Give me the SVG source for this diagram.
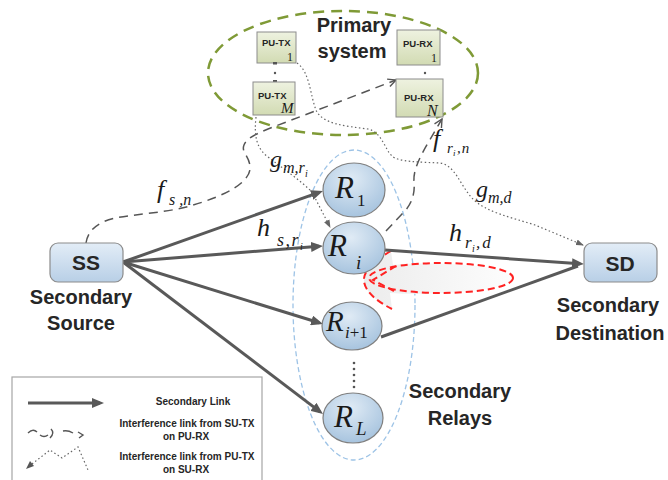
<svg xmlns="http://www.w3.org/2000/svg" width="668" height="480" viewBox="0 0 668 480">
<defs>
<linearGradient id="gPU" x1="0" y1="0" x2="0" y2="1"><stop offset="0" stop-color="#eef2e0"/><stop offset="1" stop-color="#d2dbb3"/></linearGradient>
<linearGradient id="gS" x1="0" y1="0" x2="0" y2="1"><stop offset="0" stop-color="#e3edf7"/><stop offset="1" stop-color="#b8cfe6"/></linearGradient>
<radialGradient id="gR" cx="0.45" cy="0.3" r="0.75"><stop offset="0" stop-color="#e0ebf5"/><stop offset="1" stop-color="#a3c1dd"/></radialGradient>
<linearGradient id="gRed" x1="0" y1="0" x2="1" y2="0"><stop offset="0" stop-color="#ececec"/><stop offset="1" stop-color="#fdfdfd"/></linearGradient>
<marker id="ah" viewBox="0 0 12 10" refX="8" refY="5" markerWidth="12" markerHeight="10" markerUnits="userSpaceOnUse" orient="auto"><path d="M0,0 L12,5 L0,10 z" fill="#595959"/></marker>
<marker id="op" viewBox="0 0 10 10" refX="9" refY="5" markerWidth="10" markerHeight="10" markerUnits="userSpaceOnUse" orient="auto"><path d="M1,1 L9,5 L1,9" fill="none" stroke="#555" stroke-width="1.4"/></marker>
<marker id="sm" viewBox="0 0 8 6" refX="7" refY="3" markerWidth="8" markerHeight="6" markerUnits="userSpaceOnUse" orient="auto"><path d="M0,0 L8,3 L0,6 z" fill="#666"/></marker>
</defs>
<style>
.lbl{font-family:"Liberation Sans","Open Sans",Arial,sans-serif;font-weight:bold;fill:#262626;text-anchor:middle}
.pu{font-family:"Liberation Sans",Arial,sans-serif;font-weight:bold;fill:#262626;font-size:9.5px}
.mi{font-family:"Liberation Serif","Times New Roman",serif;font-style:italic;fill:#1a1a1a}
.mu{font-family:"Liberation Serif","Times New Roman",serif;fill:#1a1a1a}
.pubox{fill:url(#gPU);stroke:#8c8c8c;stroke-width:1}
.sbox{fill:url(#gS);stroke:#8c8c8c;stroke-width:1.2}
.rel{fill:url(#gR);stroke:#7f7f7f;stroke-width:1.2}
.sol{stroke:#595959;stroke-width:3;fill:none}
.dsh{stroke:#555;stroke-width:1.5;fill:none;stroke-dasharray:9 6}
.dot{stroke:#666;stroke-width:1.2;fill:none;stroke-dasharray:1.5 2.5}
.red{stroke:#ff2222;stroke-width:2;fill:none;stroke-dasharray:7 4}
.leg{font-family:"Liberation Sans",Arial,sans-serif;font-weight:bold;fill:#262626;font-size:10px;text-anchor:middle}
</style>

<g id="primary-system">
<ellipse cx="343" cy="73" rx="135" ry="62" fill="none" stroke="#7f9a36" stroke-width="2.5" stroke-dasharray="11 7"/>
<text class="lbl" x="354" y="32" font-size="20">Primary</text>
<text class="lbl" x="352" y="58" font-size="20">system</text>
</g>

<g id="relays-group">
<ellipse cx="354" cy="305" rx="61" ry="155" fill="none" stroke="#9dc3e6" stroke-width="1.3" stroke-dasharray="5 3"/>
<text class="lbl" x="460" y="398" font-size="20">Secondary</text>
<text class="lbl" x="460" y="425" font-size="20">Relays</text>
</g>

<g id="self-interference">
<path d="M391,251 C372,262 363,272 364,281 C365,292 378,302 392,309 L390,293 C430,296 513,291 513,278 C513,265 430,261 393,265 Z" fill="url(#gRed)"/>
<ellipse cx="441" cy="278" rx="72" ry="15" class="red"/>
<path class="red" d="M391,251 C372,262 363,272 364,281 C365,292 378,302 392,309"/>
<path class="red" d="M396,266 L373,280 L394,291"/>
</g>

<g id="connectors">
<line class="sol" x1="123" y1="262" x2="319.2" y2="192.3" marker-end="url(#ah)"/>
<line class="sol" x1="123" y1="262" x2="319" y2="246.3" marker-end="url(#ah)"/>
<line class="sol" x1="123" y1="262" x2="319.2" y2="322.8" marker-end="url(#ah)"/>
<line class="sol" x1="123" y1="262" x2="319.8" y2="411.6" marker-end="url(#ah)"/>
<line class="sol" x1="385" y1="250" x2="580" y2="263.7" marker-end="url(#ah)"/>
<line class="sol" x1="381" y1="337" x2="578" y2="266"/>
<path class="dsh" d="M86,243 C88,230 98,222 115,218 C135,214 165,213 190,206 C225,196 252,182 250,166 C249,156 241,152 244,145 C247,138 256,134 268,129 L396,80" marker-end="url(#op)"/>
<path class="dsh" d="M386,231 L403,213 C413,203 415,192 414,182 C413,172 418,160 428,143 L442,119" marker-end="url(#op)"/>
<path class="dot" d="M256,117 C254,135 256,148 268,157 C285,170 300,180 312,192 L330,227" marker-end="url(#sm)"/>
<path class="dot" d="M297,63 C310,72 310,95 316,110 C322,124 345,126 368,129 C382,132 385,150 392,156 C398,162 420,162 440,163 C455,165 460,185 472,198 C485,212 510,217 535,225 L583,245" marker-end="url(#sm)"/>
</g>

<g id="channel-labels">
<text class="mi" x="157" y="198" font-size="26">f</text>
<text class="mi" x="169" y="205" font-size="16">s ,n</text>
<text class="mi" x="270" y="167" font-size="24">g</text>
<text class="mi" x="283" y="173" font-size="16">m,r</text>
<text class="mi" x="305" y="177" font-size="10">i</text>
<text class="mi" x="257" y="236" font-size="26">h</text>
<text class="mi" x="277" y="246" font-size="18" letter-spacing="1.5">s,r</text>
<text class="mi" x="300" y="250" font-size="10">i</text>
<text class="mi" x="433" y="147" font-size="26">f</text>
<text class="mi" x="447" y="153" font-size="15">r</text>
<text class="mi" x="453" y="156" font-size="9">i</text>
<text class="mi" x="457" y="153" font-size="15" letter-spacing="1">,n</text>
<text class="mi" x="476" y="197" font-size="24">g</text>
<text class="mi" x="488" y="203" font-size="16">m,d</text>
<text class="mi" x="449" y="241" font-size="26">h</text>
<text class="mi" x="465" y="248" font-size="17">r</text>
<text class="mi" x="472" y="252" font-size="10">i</text>
<text class="mi" x="476" y="248" font-size="17" letter-spacing="2">,d</text>
</g>

<g id="node-putx1">
<rect class="pubox" x="257" y="32" width="39" height="31"/>
<text class="pu" x="262" y="46">PU-TX</text>
<text class="mu" x="287" y="61" font-size="12">1</text>
</g>
<g id="putx-dots" fill="#555">
<rect x="273" y="62" width="4" height="2.5"/>
<circle cx="275" cy="73" r="1.2"/>
<rect x="273" y="80" width="4" height="2.5"/>
</g>
<g id="node-putxm">
<rect class="pubox" x="253" y="82" width="42" height="33"/>
<text class="pu" x="258" y="99">PU-TX</text>
<text class="mi" x="281" y="113" font-size="15">M</text>
</g>
<g id="node-purx1">
<rect class="pubox" x="397" y="30" width="43" height="35"/>
<text class="pu" x="403" y="47">PU-RX</text>
<text class="mu" x="431" y="62" font-size="12">1</text>
</g>
<circle cx="425" cy="73" r="1.2" fill="#555"/>
<g id="node-purxn">
<rect class="pubox" x="396" y="79" width="47" height="38"/>
<text class="pu" x="404" y="101">PU-RX</text>
<text class="mi" x="427" y="116" font-size="16">N</text>
</g>

<g id="node-ss">
<rect class="sbox" x="50" y="243" width="73" height="39" rx="8"/>
<text class="lbl" x="86" y="270" font-size="21">SS</text>
<text class="lbl" x="81" y="304" font-size="20">Secondary</text>
<text class="lbl" x="81" y="330" font-size="20">Source</text>
</g>
<g id="node-sd">
<rect class="sbox" x="584" y="243" width="73" height="39" rx="8"/>
<text class="lbl" x="620" y="271" font-size="21">SD</text>
<text class="lbl" x="608" y="312" font-size="20">Secondary</text>
<text class="lbl" x="610" y="340" font-size="20">Destination</text>
</g>

<g id="node-r1">
<ellipse class="rel" cx="354" cy="190" rx="31" ry="27"/>
<text class="mi" x="335" y="198" font-size="31">R</text>
<text class="mu" x="357" y="206" font-size="17">1</text>
</g>
<g id="node-ri">
<ellipse class="rel" cx="354" cy="248" rx="31" ry="26"/>
<text class="mi" x="328" y="256" font-size="31">R</text>
<text class="mi" x="356" y="269" font-size="19">i</text>
</g>
<g id="node-ri1">
<ellipse class="rel" cx="352" cy="326" rx="30" ry="24"/>
<text class="mi" x="326" y="331" font-size="29">R</text>
<text class="mi" x="345" y="338" font-size="17">i<tspan class="mu" font-style="normal">+1</tspan></text>
</g>
<g id="relay-dots" fill="#555">
<circle cx="354" cy="363" r="1.3"/><circle cx="354" cy="369" r="1.3"/><circle cx="354" cy="375" r="1.3"/><circle cx="354" cy="381" r="1.3"/><circle cx="354" cy="387" r="1.3"/>
</g>
<g id="node-rl">
<ellipse class="rel" cx="353" cy="418" rx="30" ry="25"/>
<text class="mi" x="334" y="427" font-size="31">R</text>
<text class="mi" x="356" y="435" font-size="19">L</text>
</g>

<g id="legend">
<rect x="12" y="377" width="250" height="110" fill="#fff" stroke="#a6a6a6" stroke-width="1.2"/>
<line class="sol" x1="28" y1="403" x2="100" y2="403" marker-end="url(#ah)"/>
<text class="leg" x="193" y="405" font-size="11">Secondary Link</text>
<g fill="none" stroke="#555" stroke-width="1.4">
<path d="M28,433 Q33,428 37,432"/>
<path d="M40,435 Q44,438 48,435"/>
<path d="M51,429 Q55,433 50,438"/>
<path d="M63,431 Q68,430 73,433"/>
<path d="M78,432 L83,435 L79,438"/>
</g>
<text class="leg" x="187" y="427">Interference link from SU-TX</text>
<text class="leg" x="186" y="440">on PU-RX</text>
<path class="dot" d="M32,464 L50,450 L62,458 L78,447 L88,470"/>
<path d="M26,469 L30,461 L34,466 z" fill="#555"/>
<text class="leg" x="187" y="460">Interference link from PU-TX</text>
<text class="leg" x="186" y="473">on SU-RX</text>
</g>
</svg>
